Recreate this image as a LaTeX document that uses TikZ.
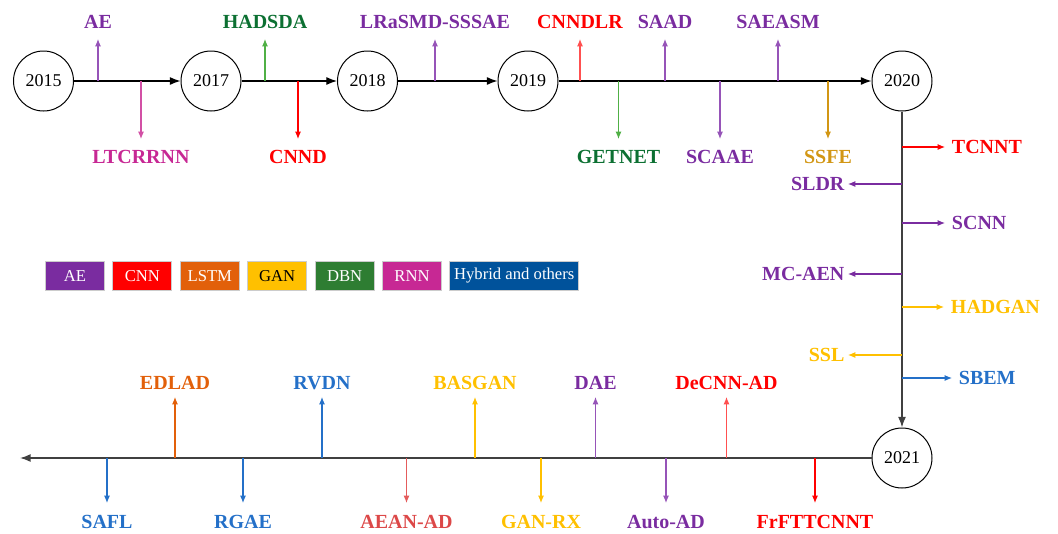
\documentclass[tikz,border=0pt]{standalone}
\usepackage{fontspec}
\setmainfont{Liberation Serif}
\usepackage{tikz}
\usetikzlibrary{arrows.meta,positioning}
\definecolor{hPurple}{RGB}{122,44,160}
\definecolor{hPurpleL}{RGB}{150,84,184}
\definecolor{hRed}{RGB}{255,0,0}
\definecolor{hRedL}{RGB}{255,80,80}
\definecolor{hOrange}{RGB}{226,96,10}
\definecolor{hGold}{RGB}{255,192,0}
\definecolor{hOchre}{RGB}{210,150,20}
\definecolor{hGreen}{RGB}{46,125,50}
\definecolor{hGreenD}{RGB}{12,112,50}
\definecolor{hGreenL}{RGB}{80,176,70}
\definecolor{hMagenta}{RGB}{199,40,148}
\definecolor{hMagentaL}{RGB}{210,80,165}
\definecolor{hBlue}{RGB}{0,82,155}
\definecolor{hBlueL}{RGB}{36,112,200}
\definecolor{hCoral}{RGB}{220,72,72}
\definecolor{hCoralL}{RGB}{228,92,92}
\colorlet{cAE}{hPurple}
\colorlet{cCNN}{hRed}
\colorlet{cLSTM}{hOrange}
\colorlet{cGAN}{hGold}
\colorlet{cDBN}{hGreen}
\colorlet{cRNN}{hMagenta}
\colorlet{cHyb}{hBlue}
\begin{document}
\begin{tikzpicture}[
		x=0.75pt,y=-0.75pt,
		year/.style={circle,draw,line width=0.75pt,minimum size=45pt,inner sep=0pt,font=\fontsize{13.5}{15}\selectfont},
		tl/.style={-{Latex[length=8pt,width=6pt]},line width=0.9pt},
		br/.style={-{Latex[length=5.5pt,width=4.5pt]},line width=0.8pt},
		lbl/.style={inner sep=0pt,text height=9.8pt,text depth=0pt,font=\fontsize{15}{17}\selectfont\bfseries},
		leg/.style={draw=black!20,line width=0.8pt,minimum width=44.25pt,minimum height=21.75pt,inner sep=0pt,text=white,font=\fontsize{12.5}{14}\selectfont}
	]
	\useasboundingbox (0,0) rectangle (1058,533);
	\node[year] (y15) at (43.5,81) {2015};
	\node[year] (y17) at (211,81) {2017};
	\node[year] (y18) at (367.5,81) {2018};
	\node[year] (y19) at (528,81) {2019};
	\node[year] (y20) at (902,81) {2020};
	\node[year] (y21) at (902,458) {2021};
	\coordinate (tlend) at (20,458);
	\draw[tl] (y15) -- (y17);
	\draw[tl] (y17) -- (y18);
	\draw[tl] (y18) -- (y19);
	\draw[tl] (y19) -- (y20);
	\draw[tl,black!75,line width=1.1pt] (y20) -- (y21);
	\draw[tl,black!75,line width=1.1pt] (y21) -- (tlend);
	\foreach \nm/\x/\lc/\ac/\txt in {ae/98/hPurple/hPurpleL/AE,hadsda/265/hGreenD/hGreenL/HADSDA,lrasmd/435/hPurple/hPurpleL/LRaSMD-SSSAE,cnndlr/580/hRed/hRedL/CNNDLR,saad/665/hPurple/hPurpleL/SAAD,saeasm/778/hPurple/hPurpleL/SAEASM}{
		\coordinate (\nm-b) at (\x,81);
		\coordinate (\nm-t) at (\x,39);
		\node[lbl,text=\lc,above=7.8pt of \nm-t] (\nm) {\txt};
		\draw[br,\ac] (\nm-b) -- (\nm-t);
	}
	\foreach \nm/\x/\lc/\ac/\txt in {ltcrrnn/141/hMagenta/hMagentaL/LTCRRNN,cnnd/298/hRed/hRed/CNND,getnet/618.5/hGreenD/hGreenL/GETNET,scaae/720/hPurple/hPurpleL/SCAAE,ssfe/828/hOchre/hOchre/SSFE}{
		\coordinate (\nm-b) at (\x,81);
		\coordinate (\nm-t) at (\x,139);
		\node[lbl,text=\lc,below=8.5pt of \nm-t] (\nm) {\txt};
		\draw[br,\ac] (\nm-b) -- (\nm-t);
	}
	\foreach \nm/\y/\x/\lc/\txt in {tcnnt/147/945/hRed/TCNNT,scnn/223/945/hPurple/SCNN,hadgan/307/944/hGold/HADGAN,sbem/378/952/hBlueL/SBEM}{
		\coordinate (\nm-b) at (902,\y);
		\coordinate (\nm-t) at (\x,\y);
		\node[lbl,text=\lc,right=5pt of \nm-t] (\nm) {\txt};
		\draw[br,\lc] (\nm-b) -- (\nm-t);
	}
	\foreach \nm/\y/\lc/\txt in {sldr/184/hPurple/SLDR,mcaen/274/hPurple/MC-AEN,ssl/355/hGold/SSL}{
		\coordinate (\nm-b) at (902,\y);
		\coordinate (\nm-t) at (848,\y);
		\node[lbl,text=\lc,left=2.5pt of \nm-t] (\nm) {\txt};
		\draw[br,\lc] (\nm-b) -- (\nm-t);
	}
	\foreach \nm/\x/\lc/\ac/\txt in {edlad/175/hOrange/hOrange/EDLAD,rvdn/322/hBlueL/hBlueL/RVDN,basgan/475/hGold/hGold/BASGAN,dae/595.5/hPurple/hPurpleL/DAE,decnnad/726.5/hRed/hRedL/DeCNN-AD}{
		\coordinate (\nm-b) at (\x,458);
		\coordinate (\nm-t) at (\x,397);
		\node[lbl,text=\lc,above=5.5pt of \nm-t] (\nm) {\txt};
		\draw[br,\ac] (\nm-b) -- (\nm-t);
	}
	\foreach \nm/\x/\lc/\ac/\txt in {safl/107/hBlueL/hBlueL/SAFL,rgae/243/hBlueL/hBlueL/RGAE,aeanad/406.5/hCoral/hCoralL/AEAN-AD,ganrx/541/hGold/hGold/GAN-RX,autoad/666/hPurple/hPurpleL/Auto-AD,frfttcnnt/815/hRed/hRed/FrFTTCNNT}{
		\coordinate (\nm-b) at (\x,458);
		\coordinate (\nm-t) at (\x,503);
		\node[lbl,text=\lc,below=9.3pt of \nm-t] (\nm) {\txt};
		\draw[br,\ac] (\nm-b) -- (\nm-t);
	}
	\node[leg,fill=cAE] (kAE) at (75,276) {AE};
	\node[leg,fill=cCNN,right=5.5pt of kAE] (kCNN) {CNN};
	\node[leg,fill=cLSTM,right=5.5pt of kCNN] (kLSTM) {LSTM};
	\node[leg,fill=cGAN,text=black,right=5.5pt of kLSTM] (kGAN) {GAN};
	\node[leg,fill=cDBN,right=5.5pt of kGAN] (kDBN) {DBN};
	\node[leg,fill=cRNN,right=5.5pt of kDBN] (kRNN) {RNN};
	\node[leg,fill=cHyb,minimum width=96.5pt,right=5.5pt of kRNN] (kHyb) {Hybrid and others};
\end{tikzpicture}
\end{document}
